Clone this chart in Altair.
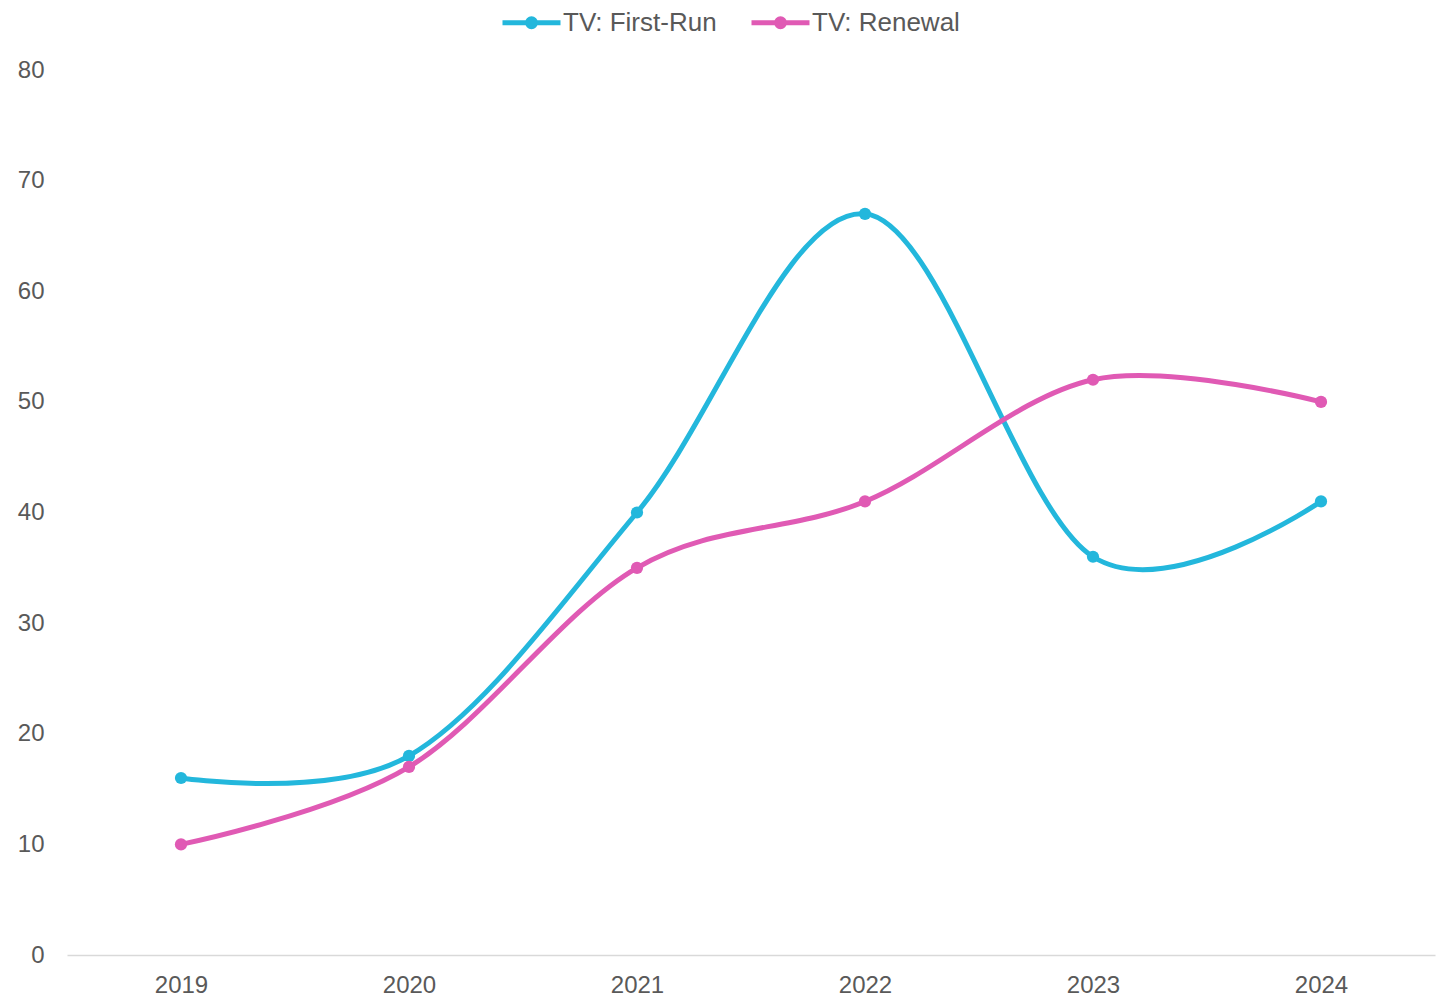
import altair as alt
import pandas as pd

years = ["2019", "2020", "2021", "2022", "2023", "2024"]
first_run = [16, 18, 40, 67, 36, 41]
renewal = [10, 17, 35, 41, 52, 50]
series_names = ["TV: First-Run", "TV: Renewal"]
series_colors = ["#23B7DC", "#E05AB4"]
y_ticks = [0, 10, 20, 30, 40, 50, 60, 70, 80]

rows = []
for name, vals in zip(series_names, [first_run, renewal]):
    for yr, v in zip(years, vals):
        rows.append({"year": yr, "value": v, "series": name})
df = pd.DataFrame(rows)

legend_path = (
    "M-1,0L1,0"
    "M0.138,0A0.138,0.138,0,1,1,-0.138,0A0.138,0.138,0,1,1,0.138,0"
    "M0.052,0A0.052,0.052,0,1,1,-0.052,0A0.052,0.052,0,1,1,0.052,0"
)

color_scale = alt.Scale(domain=series_names, range=series_colors)

x_enc = alt.X(
    "year:O",
    sort=years,
    scale=alt.Scale(type="point", padding=0.5),
    axis=alt.Axis(
        title=None,
        labelAngle=0,
        labelFont="Liberation Sans",
        labelFontSize=24,
        labelColor="#595959",
        labelPadding=18,
        ticks=False,
        domainColor="#D9D9D9",
        domainWidth=1.5,
        grid=False,
    ),
)
y_enc = alt.Y(
    "value:Q",
    scale=alt.Scale(domain=[0, 80], nice=False),
    axis=alt.Axis(
        title=None,
        values=y_ticks,
        labelFont="Liberation Sans",
        labelFontSize=24,
        labelColor="#595959",
        labelPadding=23,
        ticks=False,
        domain=False,
        grid=False,
    ),
)

lines = alt.Chart(df).mark_line(
    interpolate="cardinal", strokeWidth=5
).encode(
    x=x_enc,
    y=y_enc,
    color=alt.Color(
        "series:N",
        scale=color_scale,
        legend=alt.Legend(
            title=None,
            orient="none",
            direction="horizontal",
            legendX=433,
            legendY=-79,
            symbolType=legend_path,
            symbolSize=3364,
            symbolStrokeWidth=5,
            labelFont="Liberation Sans",
            labelFontSize=26,
            labelColor="#595959",
            labelOffset=0,
            columnPadding=24,
            padding=0,
        ),
    ),
    detail="series:N",
)

points = alt.Chart(df).mark_point(filled=True, size=150, opacity=1).encode(
    x=x_enc,
    y=y_enc,
    color=alt.Color("series:N", scale=color_scale, legend=None),
)

chart = alt.layer(lines, points).properties(
    width=1368,
    height=885,
    autosize=alt.AutoSizeParams(type="none"),
    padding={"left": 59, "top": 62, "right": 2, "bottom": 41},
).configure_view(stroke=None)

chart.save("out.html", embed_options={"renderer": "svg", "actions": False})
